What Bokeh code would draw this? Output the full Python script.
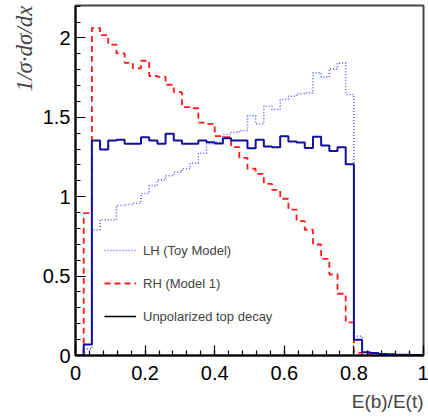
from bokeh.plotting import figure
from bokeh.models import (Range1d, Legend, LegendItem, Title, FixedTicker,
                          PrintfTickFormatter)
from bokeh.embed import file_html
from bokeh.resources import INLINE

# histogram binning (bin width: 34 bins up to 0.8)
bin_width = 0.8 / 34

unpolarized = [0, 0.07, 1.354, 1.297, 1.354, 1.358, 1.333, 1.333, 1.375, 1.354,
               1.333, 1.396, 1.354, 1.333, 1.333, 1.354, 1.343, 1.335, 1.368, 1.354,
               1.354, 1.305, 1.358, 1.316, 1.312, 1.381, 1.348, 1.341, 1.307, 1.377,
               1.322, 1.288, 1.311, 1.204, 0.099, 0.021, 0.015, 0.010, 0.008, 0.005,
               0.004, 0.003, 0.002]
rh_model1 = [0, 0.896, 2.062, 2.018, 1.957, 1.902, 1.843, 1.809, 1.856, 1.760,
             1.754, 1.705, 1.658, 1.564, 1.557, 1.467, 1.459, 1.381, 1.375, 1.312,
             1.245, 1.176, 1.144, 1.081, 1.043, 0.987, 0.919, 0.846, 0.792, 0.699,
             0.609, 0.510, 0.389, 0.208, 0.017, 0.008, 0.006, 0.004, 0.003, 0.002,
             0.002, 0.001, 0.001]
lh_toy = [0, 0.042, 0.792, 0.855, 0.855, 0.945, 0.951, 0.959, 1.020, 1.070,
          1.106, 1.133, 1.154, 1.176, 1.211, 1.274, 1.333, 1.343, 1.392, 1.405,
          1.417, 1.511, 1.459, 1.570, 1.549, 1.612, 1.633, 1.648, 1.654, 1.780,
          1.753, 1.805, 1.843, 1.644, 0.122, 0.020, 0.012, 0.008, 0.006, 0.004,
          0.003, 0.002, 0.001]

x_ticks = [0, 0.2, 0.4, 0.6, 0.8, 1.0]
y_ticks = [0, 0.5, 1.0, 1.5, 2.0]
legend_labels = ["LH (Toy Model)", "RH (Model 1)", "Unpolarized top decay"]


def step_xy(vals):
    xs = [i * bin_width for i in range(len(vals) + 1)]
    ys = list(vals) + [vals[-1]]
    return xs, ys


p = figure(width=428, height=417, output_backend="svg", toolbar_location=None,
           x_range=Range1d(0, 1), y_range=Range1d(0, 2.204),
           min_border_left=75, min_border_right=5, min_border_top=5, min_border_bottom=62)
p.xgrid.visible = False
p.ygrid.visible = False
p.outline_line_color = "#444444"
p.outline_line_width = 2
p.background_fill_color = "white"
p.border_fill_color = "white"

xs, ys = step_xy(lh_toy)
r_lh = p.step(xs, ys, mode="after", line_color="#5c5cff", line_width=1.6, line_dash="1 2")
xs, ys = step_xy(rh_model1)
r_rh = p.step(xs, ys, mode="after", line_color="#ff1a1a", line_width=1.8, line_dash="6 4")
xs, ys = step_xy(unpolarized)
r_un = p.step(xs, ys, mode="after", line_color="#10109a", line_width=2)
r_black = p.line(x=[float("nan")], y=[float("nan")], line_color="black", line_width=1.5)

for ax in (p.xaxis[0], p.yaxis[0]):
    ax.major_tick_in = 10
    ax.major_tick_out = 0
    ax.minor_tick_in = 5
    ax.minor_tick_out = 0
    ax.axis_line_width = 2
    ax.major_tick_line_width = 1.2
    ax.minor_tick_line_width = 1.2
    ax.major_label_text_font = "Liberation Sans"
    ax.major_label_text_font_size = "20px"
    ax.major_label_text_color = "black"
    ax.formatter = PrintfTickFormatter(format="%g")

p.xaxis[0].ticker = FixedTicker(ticks=x_ticks, minor_ticks=[i * 0.04 for i in range(26)])
p.yaxis[0].ticker = FixedTicker(ticks=y_ticks, minor_ticks=[i * 0.1 for i in range(23)])
p.xaxis[0].major_label_standoff = 10
p.yaxis[0].major_label_standoff = 5

p.add_layout(Title(text="E(b)/E(t)", align="right", text_font="Liberation Sans",
                   text_font_size="19px", text_font_style="normal", standoff=12), "below")
p.add_layout(Title(text="1/σ·dσ/dx", align="right", text_font="Liberation Serif",
                   text_font_size="23px", text_font_style="italic", standoff=6), "left")

legend = Legend(items=[LegendItem(label=legend_labels[0], renderers=[r_lh]),
                       LegendItem(label=legend_labels[1], renderers=[r_rh]),
                       LegendItem(label=legend_labels[2], renderers=[r_black])],
                location=(29, 29), padding=0, margin=0, spacing=13,
                glyph_width=32, glyph_height=20, label_standoff=7,
                label_text_font="Liberation Sans", label_text_font_size="13px",
                background_fill_alpha=0, border_line_alpha=0)
p.add_layout(legend)

open("out.html", "w").write(file_html(p, INLINE))
